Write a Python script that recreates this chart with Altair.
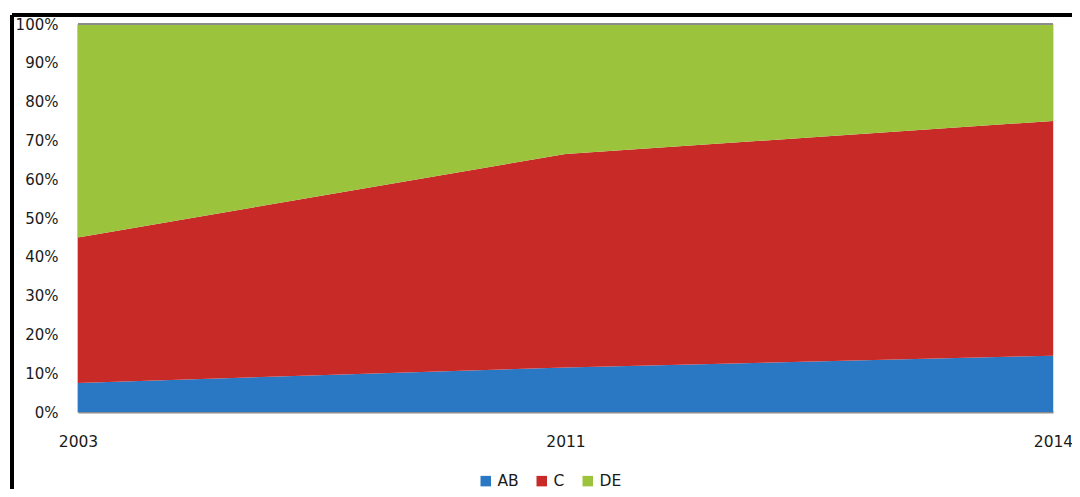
import altair as alt
import pandas as pd

years = ["2003", "2011", "2014"]
groups = ["AB", "C", "DE"]
ab = [7.5, 11.5, 14.5]
c = [37.5, 55.0, 60.5]
de = [55.0, 33.5, 25.0]
colors = ["#2A77C4", "#C82A27", "#9BC33B"]
y_ticks = [0, 0.1, 0.2, 0.3, 0.4, 0.5, 0.6, 0.7, 0.8, 0.9, 1.0]

rows = []
for gi, (g, vals) in enumerate(zip(groups, [ab, c, de])):
    for y, v in zip(years, vals):
        rows.append({"year": y, "group": g, "value": v, "ord": gi})
df = pd.DataFrame(rows)

W, H = 975, 388
FONT = "DejaVu Sans"

area = alt.Chart(df).mark_area(opacity=1).encode(
    x=alt.X("year:O", sort=years, scale=alt.Scale(type="point", padding=0),
            axis=alt.Axis(title=None, labelAngle=0, ticks=False, domainColor="#8c8c8c",
                          domainWidth=2, labelPadding=22, labelFontSize=15.5,
                          labelFont=FONT, labelColor="#1a1a1a",
                          labelFlush=False)),
    y=alt.Y("value:Q", stack="normalize",
            scale=alt.Scale(domain=[0, 1], nice=False),
            axis=alt.Axis(title=None, format=".0%", values=y_ticks, ticks=False,
                          grid=False, domainColor="#8c8c8c", domainWidth=2,
                          labelPadding=20, labelFontSize=15, labelFont=FONT,
                          labelColor="#1a1a1a")),
    color=alt.Color("group:N", sort=groups,
                    scale=alt.Scale(domain=groups, range=colors),
                    legend=alt.Legend(title=None, orient="none", direction="horizontal",
                                      legendX=400, legendY=449, symbolType="square",
                                      symbolSize=110, symbolStrokeWidth=0,
                                      labelFontSize=15.5, labelFont=FONT,
                                      labelColor="#1a1a1a", labelOffset=4,
                                      columnPadding=15, symbolOpacity=1)),
    order=alt.Order("ord:Q", sort="ascending"),
)

top_rule = alt.Chart(df).mark_rule(color="#8c8c8c", strokeWidth=2).encode(
    x=alt.value(0), x2=alt.value(W), y=alt.value(0))

frame_left = alt.Chart(df).mark_rule(color="#000000", strokeWidth=3).encode(
    x=alt.value(-66), y=alt.value(-9), y2=alt.value(480))
frame_top = alt.Chart(df).mark_rule(color="#000000", strokeWidth=3).encode(
    x=alt.value(-66), x2=alt.value(1010), y=alt.value(-9))

chart = alt.layer(area, top_rule, frame_left, frame_top).properties(
    width=W, height=H,
    autosize=alt.AutoSizeParams(type="none"),
    padding={"left": 70, "top": 16, "right": 19, "bottom": 77},
).configure_view(stroke=None).configure(background="white")

chart.save("out.html", embed_options={"renderer": "svg", "actions": False})
